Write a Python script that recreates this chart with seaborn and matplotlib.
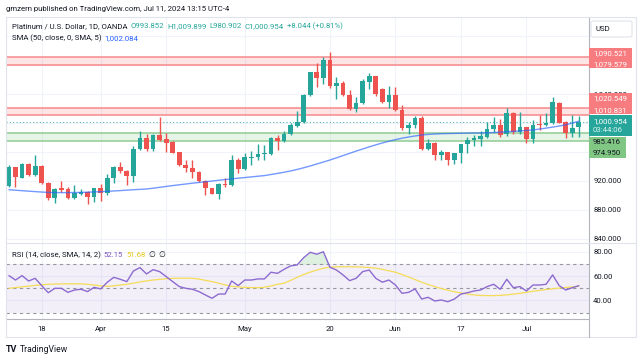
import pandas as pd
import matplotlib.pyplot as plt
import matplotlib.patches as mpatches
import seaborn as sns

# --- datos (XPT/USD diario, OANDA) ---
opens = [912.6, 938.4, 924.1, 943.0, 927.8, 940.2, 917.2, 895.6, 909.4, 908.5,
         895.6, 902.0, 904.8, 897.5, 909.4, 903.0, 923.2, 938.9, 933.3, 926.9,
         963.7, 979.3, 963.2, 983.0, 977.5, 973.8, 959.0, 941.6, 937.0, 932.4,
         919.5, 909.4, 902.0, 915.4, 914.0, 948.5, 936.0, 951.8, 952.7, 956.8,
         956.8, 978.4, 975.2, 984.0, 996.0, 1000.5, 1037.7, 1069.4, 1062.0, 1086.4,
         1051.0, 1054.3, 1038.2, 1018.4, 1026.7, 1056.5, 1064.4, 1046.0, 1028.0, 1038.2,
         1017.5, 992.2, 996.8, 1006.0, 963.7, 972.4, 955.4, 959.0, 948.5, 957.7,
         970.0, 975.7, 977.0, 980.7, 991.3, 996.8, 985.0, 1013.9, 986.7, 993.6,
         978.0, 998.0, 996.8, 1000.0, 1027.6, 1001.4, 985.4, 993.852]
highs = [941.6, 939.5, 944.0, 944.8, 955.4, 941.0, 918.6, 909.4, 919.5, 911.7,
         914.0, 909.0, 906.0, 910.0, 914.9, 929.2, 940.2, 946.2, 934.2, 968.3,
         988.5, 984.8, 985.0, 1008.3, 986.2, 974.7, 960.0, 948.5, 948.5, 933.8,
         920.9, 910.3, 916.3, 923.2, 955.4, 950.8, 958.6, 961.0, 970.6, 969.0,
         980.2, 983.0, 988.5, 999.0, 1016.5, 1039.0, 1069.8, 1081.8, 1091.0, 1097.0,
         1062.5, 1058.0, 1045.0, 1035.0, 1060.2, 1068.0, 1064.8, 1047.4, 1051.0, 1048.7,
         1024.4, 1001.4, 1009.2, 1009.2, 977.0, 973.8, 962.0, 959.5, 958.0, 971.0,
         980.0, 983.0, 988.5, 1000.5, 1008.3, 1004.6, 1020.7, 1015.0, 1015.0, 994.5,
         1003.7, 1010.0, 1013.0, 1036.0, 1029.0, 1002.8, 1010.3, 1009.899]
lows = [911.7, 911.7, 923.0, 926.9, 926.0, 916.0, 893.3, 889.7, 904.8, 894.7,
        894.7, 900.0, 887.4, 891.0, 892.0, 900.0, 916.3, 930.0, 914.0, 918.6,
        962.3, 961.0, 961.0, 975.0, 960.0, 957.7, 940.7, 932.4, 923.2, 918.6,
        900.2, 901.2, 894.7, 911.7, 913.0, 930.0, 935.0, 941.6, 948.5, 948.0,
        955.4, 962.3, 973.8, 983.0, 994.5, 999.5, 1036.3, 1049.7, 1054.0, 1048.3,
        1032.0, 1036.8, 1017.5, 1015.2, 1025.3, 1046.0, 1037.2, 1026.6, 1019.8, 1016.5,
        990.0, 984.0, 992.2, 962.3, 962.3, 948.5, 948.0, 941.0, 943.0, 945.0,
        958.6, 967.8, 968.0, 978.4, 987.6, 980.7, 981.6, 984.0, 985.0, 971.5,
        972.4, 990.0, 996.0, 998.0, 999.0, 978.4, 980.0, 980.902]
closes = [939.3, 924.6, 942.5, 927.8, 940.2, 917.2, 895.6, 908.5, 907.6, 895.6,
          903.0, 904.0, 897.5, 909.4, 903.4, 923.2, 938.9, 933.3, 926.9, 963.7,
          979.3, 963.7, 983.0, 976.0, 972.4, 958.6, 941.6, 937.0, 932.0, 919.5,
          909.4, 902.0, 915.4, 914.0, 948.5, 936.0, 952.2, 952.7, 956.8, 958.2,
          978.4, 975.2, 984.0, 996.8, 1001.4, 1038.2, 1069.4, 1062.0, 1086.4, 1051.0,
          1054.3, 1038.2, 1018.4, 1026.7, 1057.5, 1064.4, 1039.0, 1028.0, 1038.2, 1017.5,
          992.2, 996.8, 1006.0, 963.7, 972.4, 955.4, 959.0, 948.5, 957.7, 970.0,
          976.0, 978.4, 982.0, 991.3, 996.8, 983.0, 1013.0, 987.6, 993.6, 977.5,
          996.8, 996.8, 1000.0, 1029.0, 1000.0, 985.4, 992.91, 1000.954]
sma50 = [907.5, 906.8, 906.2, 905.5, 904.9, 904.3, 903.8, 903.6, 903.5, 903.5,
         903.6, 903.8, 904.1, 904.4, 904.8, 905.3, 905.8, 906.3, 906.9, 907.5,
         908.0, 908.5, 909.6, 910.8, 912.0, 913.2, 914.3, 915.4, 916.5, 917.5,
         918.5, 919.5, 920.5, 921.5, 922.5, 923.4, 924.3, 925.2, 926.1, 927.0,
         928.5, 930.0, 931.6, 933.4, 935.5, 937.8, 940.3, 943.0, 945.7, 948.5,
         951.5, 954.6, 957.7, 960.8, 963.7, 966.6, 969.4, 972.0, 974.4, 976.6,
         978.6, 980.2, 981.7, 983.0, 983.8, 984.4, 984.8, 985.0, 985.2, 985.4,
         985.6, 985.8, 985.9, 986.0, 986.4, 986.9, 987.5, 988.1, 988.7, 989.3,
         990.0, 991.2, 992.5, 993.9, 995.4, 997.0, 999.4, 1002.084]
rsi = [60.4, 56.8, 60.4, 56.0, 58.2, 52.2, 46.4, 50.0, 50.0, 46.7,
       48.6, 49.2, 47.3, 50.8, 49.5, 54.9, 59.0, 57.4, 55.5, 64.2,
       67.0, 61.8, 65.3, 63.7, 59.6, 55.5, 51.4, 50.0, 49.2, 47.3,
       44.5, 41.8, 45.3, 45.3, 56.0, 52.2, 56.8, 56.8, 57.7, 57.7,
       63.2, 62.3, 65.6, 68.4, 69.2, 75.2, 79.6, 78.0, 80.0, 67.3,
       65.0, 61.0, 56.3, 58.2, 63.7, 65.0, 58.2, 55.0, 56.8, 52.7,
       45.9, 46.7, 49.5, 41.2, 42.6, 39.6, 40.4, 39.0, 41.2, 45.3,
       46.4, 47.8, 48.6, 51.4, 53.3, 49.2, 57.4, 50.5, 51.4, 47.8,
       52.7, 52.7, 53.3, 61.0, 52.2, 48.6, 50.5, 52.15]
rsi_sma = [50.0, 50.6, 51.2, 51.8, 52.4, 52.9, 53.3, 53.5, 53.6, 53.7,
           53.7, 53.6, 53.3, 52.7, 52.0, 51.6, 52.0, 52.7, 53.3, 54.2,
           55.2, 56.1, 56.8, 57.4, 57.9, 58.2, 58.3, 58.3, 58.2, 57.6,
           56.5, 55.5, 54.2, 52.8, 51.7, 51.2, 50.8, 50.6, 50.5, 50.9,
           51.9, 53.3, 54.2, 56.5, 59.0, 61.3, 63.3, 65.0, 66.5, 67.4,
           67.6, 67.7, 67.7, 67.6, 67.4, 67.1, 66.5, 65.6, 64.4, 63.2,
           61.3, 59.3, 57.2, 55.0, 53.1, 51.4, 49.8, 48.4, 47.2, 46.2,
           45.3, 44.6, 44.1, 44.0, 44.0, 44.2, 44.6, 45.2, 45.9, 46.7,
           47.6, 48.3, 49.0, 49.6, 50.2, 50.7, 51.1, 51.68]

zona_resist_alta = (1079.579, 1090.521)
zona_resist_baja = (1010.831, 1020.549)
zona_soporte = (974.950, 985.416)
precio_actual = 1000.954

etiquetas_fecha = ['18', 'Apr', '15', 'May', '20', 'Jun', '17', 'Jul']
fechas_tick = ['2024-03-18', '2024-04-01', '2024-04-15', '2024-05-01',
               '2024-05-20', '2024-06-03', '2024-06-17', '2024-07-01']

# dias habiles (OANDA cerrado en Viernes Santo)
fechas = pd.bdate_range('2024-03-11', '2024-07-11')
fechas = fechas[fechas != pd.Timestamp('2024-03-29')]
df = pd.DataFrame({'fecha': fechas, 'open': opens, 'high': highs, 'low': lows,
                   'close': closes, 'sma': sma50, 'rsi': rsi, 'rsi_sma': rsi_sma})
df['i'] = range(len(df))
pos_tick = [int(df.index[df['fecha'] == pd.Timestamp(f)][0]) for f in fechas_tick]

VERDE = '#26a69a'
ROJO = '#ef5350'
GRIS_TXT = '#131722'
GRID = '#f0f3fa'

sns.set_theme(style='white')
plt.rcParams['font.family'] = ['Roboto', 'DejaVu Sans']

W, H = 643, 361
fig = plt.figure(figsize=(W / 100, H / 100), dpi=100)
fig.patch.set_facecolor('white')


def caja(x0, y0, x1, y1):
    return [x0 / W, 1 - y1 / H, (x1 - x0) / W, (y1 - y0) / H]


ax = fig.add_axes(caja(6, 17, 589, 243))
ax_rsi = fig.add_axes(caja(6, 243, 589, 319), sharex=ax)
xlim = (-0.45, 88.55)

# --- panel de precio ---
for x in pos_tick:
    ax.axvline(x, color=GRID, lw=0.8, zorder=0)
for y in range(840, 1160, 40):
    ax.axhline(y, color=GRID, lw=0.8, zorder=0)

for (lo, hi), linea, relleno in [(zona_resist_alta, '#f7888b', '#f23645'),
                                 (zona_resist_baja, '#f7888b', '#f23645'),
                                 (zona_soporte, '#8fcc92', '#4caf50')]:
    ax.axhspan(lo, hi, color=relleno, alpha=0.13, lw=0, zorder=1)
    ax.axhline(lo, color=linea, lw=1.1, zorder=1)
    ax.axhline(hi, color=linea, lw=1.1, zorder=1)

ax.axhline(precio_actual, color=VERDE, lw=0.8, ls=(0, (1, 2)), zorder=1, alpha=0.8)

sube = df['close'] >= df['open']
colores = [VERDE if s else ROJO for s in sube]
ax.vlines(df['i'], df['low'], df['high'], colors=colores, lw=1, zorder=3)
cuerpo = (df['close'] - df['open']).abs().clip(lower=0.9)
ax.bar(df['i'], cuerpo, bottom=df[['open', 'close']].min(axis=1), width=0.72,
       color=colores, linewidth=0, zorder=4)

sns.lineplot(data=df, x='i', y='sma', ax=ax, color='#2962ff', alpha=0.65, lw=1,
             zorder=5, legend=False)

ax.set_xlim(*xlim)
ax.set_ylim(834, 1145.8)
ax.yaxis.tick_right()
ax.set_yticks([840, 880, 920, 960, 1000, 1040, 1080, 1120])
ax.set_yticklabels(['840.000', '880.000', '920.000', '', '', '1,040.000', '', ''])
ax.tick_params(axis='y', length=0, pad=3, labelsize=5.6, labelcolor=GRIS_TXT)
ax.tick_params(axis='x', length=0, labelbottom=False)
ax.set_xlabel('')
ax.set_ylabel('')
for lado in ['top', 'left', 'bottom']:
    ax.spines[lado].set_visible(False)
ax.spines['right'].set_color('#b2b5be')
ax.spines['right'].set_linewidth(0.8)

# --- panel RSI ---
for x in pos_tick:
    ax_rsi.axvline(x, color=GRID, lw=0.8, zorder=0)
for y in [40, 60, 80]:
    ax_rsi.axhline(y, color=GRID, lw=0.8, zorder=0)
ax_rsi.axhspan(30, 70, color='#7e57c2', alpha=0.09, lw=0, zorder=0)
for y in [30, 50, 70]:
    ax_rsi.axhline(y, color='#9598a1', lw=0.8, ls=(0, (3, 3)), zorder=1)
ax_rsi.fill_between(df['i'], df['rsi'], 70, where=df['rsi'] > 70, interpolate=True,
                    color='#4caf50', alpha=0.18, lw=0, zorder=1)
sns.lineplot(data=df, x='i', y='rsi_sma', ax=ax_rsi, color='#f5dc55', lw=0.9,
             zorder=2, legend=False)
sns.lineplot(data=df, x='i', y='rsi', ax=ax_rsi, color='#8c6ad0', lw=1,
             zorder=3, legend=False)
ax_rsi.set_ylim(24.8, 87.2)
ax_rsi.yaxis.tick_right()
ax_rsi.set_yticks([40, 60, 80])
ax_rsi.set_yticklabels(['40.00', '60.00', '80.00'])
ax_rsi.tick_params(axis='y', length=0, pad=3, labelsize=5.6, labelcolor=GRIS_TXT)
ax_rsi.set_xticks(pos_tick)
ax_rsi.set_xticklabels(etiquetas_fecha)
ax_rsi.tick_params(axis='x', length=0, pad=5, labelsize=5.6, labelcolor=GRIS_TXT)
ax_rsi.set_xlabel('')
ax_rsi.set_ylabel('')
ax_rsi.set_xlim(*xlim)
for lado in ['top', 'left']:
    ax_rsi.spines[lado].set_visible(False)
ax_rsi.spines['right'].set_color('#b2b5be')
ax_rsi.spines['right'].set_linewidth(0.8)
ax_rsi.spines['bottom'].set_color('#b2b5be')
ax_rsi.spines['bottom'].set_linewidth(0.8)

# separador entre paneles y marco exterior
fig.add_artist(plt.Line2D([6 / W, 636 / W], [1 - 243 / H] * 2, color='#e0e3eb', lw=0.8))
fig.add_artist(plt.Line2D([589 / W, 589 / W], [1 - 319 / H, 1 - 337 / H], color='#b2b5be', lw=0.8))
fig.add_artist(mpatches.Rectangle((6 / W, 1 - 337 / H), 630 / W, 320 / H, fill=False,
                                  ec='#e0e3eb', lw=0.8, transform=fig.transFigure))


def etiqueta(x0, y0, x1, y1, fondo, textos, color_txt='white'):
    fig.add_artist(mpatches.Rectangle((x0 / W, 1 - y1 / H), (x1 - x0) / W, (y1 - y0) / H,
                                      fc=fondo, ec='none', transform=fig.transFigure,
                                      zorder=5))
    for yt, s, c in textos:
        fig.text(593 / W, 1 - yt / H, s, color=c or color_txt, fontsize=5.6,
                 va='center', ha='left', zorder=6)


# caja USD
fig.add_artist(mpatches.FancyBboxPatch((591 / W, 1 - 37 / H), 41 / W, 16 / H,
                                       boxstyle='round,pad=0,rounding_size=0.004',
                                       fc='white', ec='#e0e3eb', lw=0.8,
                                       transform=fig.transFigure, zorder=5))
fig.text(596 / W, 1 - 29 / H, 'USD', fontsize=5.6, color=GRIS_TXT, va='center', zorder=6)

etiqueta(589, 47.7, 632, 68.3, '#f77c80', [(53.3, '1,090.521', None), (64, '1,079.579', None)])
etiqueta(589, 93.3, 632, 114.3, '#f77c80', [(97.7, '1,020.549', None), (110, '1,010.831', None)])
etiqueta(589, 115, 632, 135.7, VERDE, [(121, '1,000.954', None), (130.5, '03:44:06', '#d8f1ee')])
etiqueta(589, 136.7, 626, 158.3, '#81c784', [(141.7, '985.416', GRIS_TXT), (152.7, '974.950', GRIS_TXT)])

# textos de cabecera y leyendas
renderer = fig.canvas.get_renderer()


def encadenar(x, y, partes, size=5.6):
    for s, c in partes:
        t = fig.text(x / W, 1 - y / H, s, color=c, fontsize=size, va='center', ha='left')
        x += t.get_window_extent(renderer=renderer).width + 3


encadenar(6, 9, [('gmzern published on TradingView.com, Jul 11, 2024 13:15 UTC-4', GRIS_TXT)])
encadenar(12, 26, [('Platinum / U.S. Dollar, 1D, OANDA', GRIS_TXT),
                   ('O993.852', VERDE), ('H1,009.899', VERDE), ('L980.902', VERDE),
                   ('C1,000.954', VERDE), ('+8.044 (+0.81%)', VERDE)])
encadenar(12, 38, [('SMA (50, close, 0, SMA, 5)', GRIS_TXT), ('1,002.084', '#2962ff')])
encadenar(12, 255, [('RSI (14, close, SMA, 14, 2)', GRIS_TXT), ('52.15', '#7e57c2'),
                    ('51.68', '#e9c81c'), ('\u2205', GRIS_TXT), ('\u2205', GRIS_TXT)])

fig.text(6 / W, 1 - 350 / H, 'TV', fontsize=6.5, fontweight='bold', color=GRIS_TXT, va='center')
fig.text(20 / W, 1 - 350 / H, 'TradingView', fontsize=6.2, color=GRIS_TXT, va='center')

fig.savefig('out.png', dpi=100, facecolor='white')
